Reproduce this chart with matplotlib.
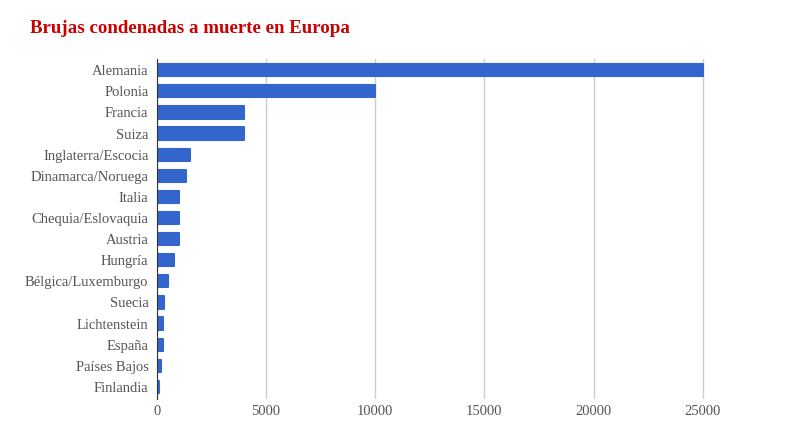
import matplotlib
matplotlib.use("Agg")
import matplotlib.pyplot as plt

# datos
paises = ["Alemania", "Polonia", "Francia", "Suiza", "Inglaterra/Escocia",
          "Dinamarca/Noruega", "Italia", "Chequia/Eslovaquia", "Austria",
          "Hungría", "Bélgica/Luxemburgo", "Suecia", "Lichtenstein",
          "España", "Países Bajos", "Finlandia"]
condenas = [25000, 10000, 4000, 4000, 1500, 1350, 1000, 1000, 1000,
            800, 500, 350, 300, 300, 200, 100]
ticks_x = [0, 5000, 10000, 15000, 20000, 25000]

plt.rcParams['font.family'] = ['Liberation Serif', 'DejaVu Serif']

fig = plt.figure(figsize=(8, 4.37), dpi=100)
ax = fig.add_axes([0.196, 0.088, 0.688, 0.778])

pos = list(range(len(paises)))
ax.barh(pos, condenas, height=0.58, color="#3366cc", edgecolor="#3366cc",
        linewidth=1.5, joinstyle="round", zorder=3)

ax.set_yticks(pos)
ax.set_yticklabels(paises)
ax.set_ylim(len(paises) - 0.45, -0.55)
ax.set_xlim(0, 25200)
ax.set_xticks(ticks_x)
ax.set_xticklabels([str(t) for t in ticks_x])

ax.grid(axis="x", color="#cccccc", linewidth=1, zorder=0)
ax.tick_params(axis="both", length=0, labelsize=10.5, labelcolor="#555555")
ax.tick_params(axis="y", pad=6)
ax.tick_params(axis="x", pad=5)
for s in ["top", "right", "bottom"]:
    ax.spines[s].set_visible(False)
ax.spines["left"].set_color("#333333")
ax.spines["left"].set_zorder(4)

fig.text(0.037, 0.925, "Brujas condenadas a muerte en Europa", color="#cc0000",
         fontsize=13.6, fontweight="bold", ha="left", va="baseline")

fig.savefig("out.png", dpi=100, facecolor="white")
